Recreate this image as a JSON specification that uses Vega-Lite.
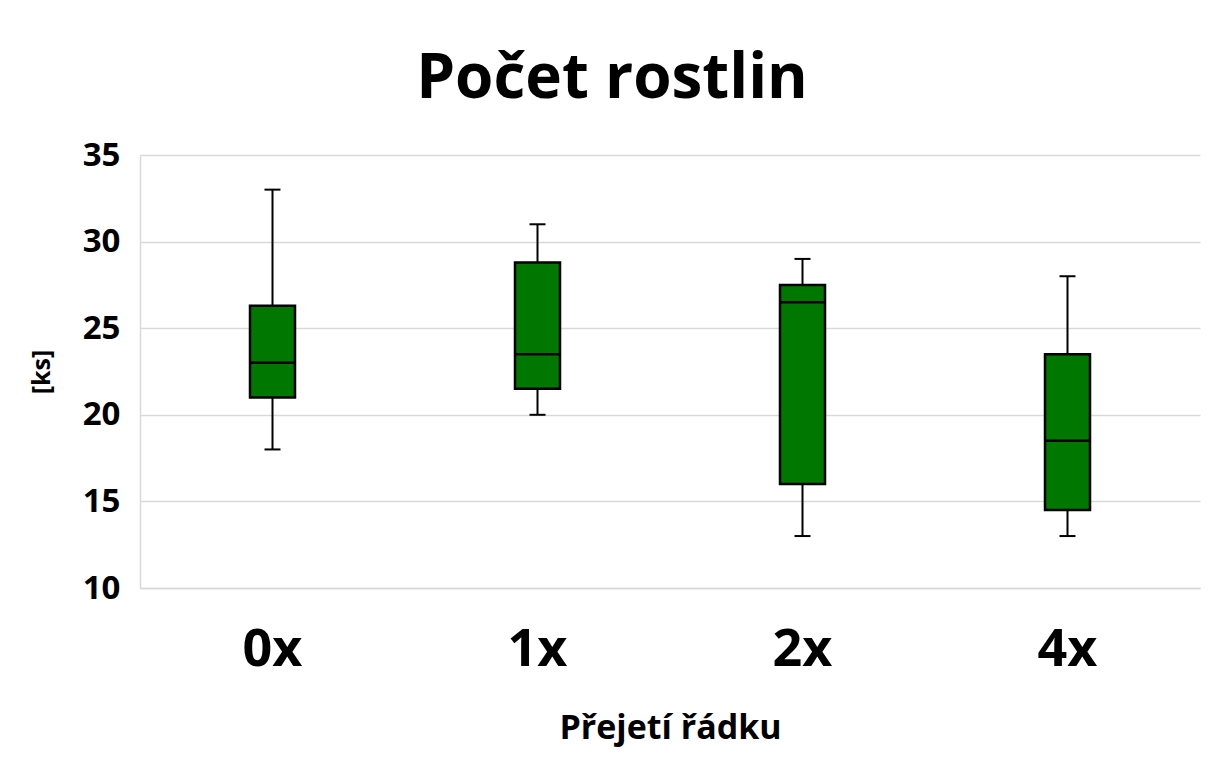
{
  "$schema": "https://vega.github.io/schema/vega-lite/v6.json",
  "width": 1060,
  "height": 433,
  "autosize": {"type": "none"},
  "padding": {"left": 140, "top": 155, "right": 8, "bottom": 174},
  "background": "white",
  "title": {
    "text": "Počet rostlin",
    "font": "Open Sans",
    "fontSize": 62,
    "fontWeight": "bold",
    "color": "#000000",
    "anchor": "middle",
    "dx": -58,
    "baseline": "alphabetic",
    "offset": -21
  },
  "config": {
    "view": {"stroke": null},
    "axis": {
      "labelFont": "Open Sans",
      "titleFont": "Open Sans",
      "labelColor": "#000000",
      "titleColor": "#000000",
      "labelFontWeight": "bold",
      "titleFontWeight": "bold",
      "domainColor": "#d9d9d9",
      "domainWidth": 1.5,
      "gridColor": "#d9d9d9",
      "gridWidth": 1.5,
      "ticks": false
    }
  },
  "data": {
    "values": [
      {"cat": "0x", "min": 18, "q1": 21, "median": 23, "q3": 26.3, "max": 33},
      {"cat": "1x", "min": 20, "q1": 21.5, "median": 23.5, "q3": 28.8, "max": 31},
      {"cat": "2x", "min": 13, "q1": 16, "median": 26.5, "q3": 27.5, "max": 29},
      {"cat": "4x", "min": 13, "q1": 14.5, "median": 18.5, "q3": 23.5, "max": 28}
    ]
  },
  "encoding": {
    "x": {
      "field": "cat",
      "type": "nominal",
      "sort": null,
      "scale": {"paddingInner": 0, "paddingOuter": 0},
      "axis": {
        "title": "Přejetí řádku",
        "labelAngle": 0,
        "labelFontSize": 52,
        "labelPadding": 36,
        "titleFontSize": 34,
        "titlePadding": 36,
        "grid": false
      }
    }
  },
  "layer": [
    {
      "mark": {"type": "rule", "color": "#000000", "strokeWidth": 2},
      "encoding": {
        "y": {
          "field": "min",
          "type": "quantitative",
          "title": "[ks]",
          "scale": {"domain": [10, 35], "nice": false, "zero": false},
          "axis": {
            "values": [10, 15, 20, 25, 30, 35],
            "labelFontSize": 33,
            "labelPadding": 20,
            "titleFontSize": 25,
            "titlePadding": 28,
            "grid": true
          }
        },
        "y2": {"field": "max"}
      }
    },
    {
      "mark": {"type": "bar", "size": 45, "fill": "#007800", "stroke": "#000000", "strokeWidth": 2.5},
      "encoding": {
        "y": {"field": "q1", "type": "quantitative", "title": "[ks]"},
        "y2": {"field": "q3"}
      }
    },
    {
      "mark": {"type": "tick", "size": 45, "thickness": 2.5, "color": "#000000", "orient": "horizontal", "opacity": 1},
      "encoding": {
        "y": {"field": "median", "type": "quantitative", "title": "[ks]"}
      }
    },
    {
      "mark": {"type": "tick", "size": 16, "thickness": 2, "color": "#000000", "orient": "horizontal", "opacity": 1},
      "encoding": {
        "y": {"field": "min", "type": "quantitative", "title": "[ks]"}
      }
    },
    {
      "mark": {"type": "tick", "size": 16, "thickness": 2, "color": "#000000", "orient": "horizontal", "opacity": 1},
      "encoding": {
        "y": {"field": "max", "type": "quantitative", "title": "[ks]"}
      }
    }
  ]
}
